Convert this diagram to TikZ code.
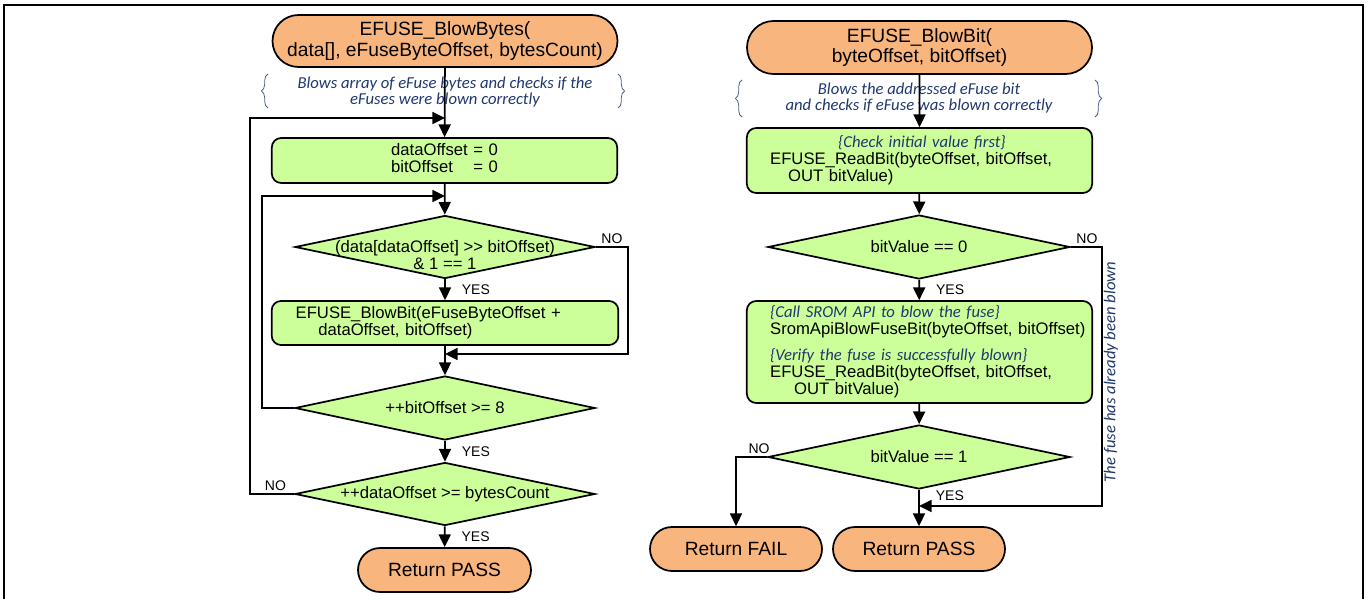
\documentclass[tikz,border=0pt]{standalone}
\usepackage{fontspec}
\setmainfont{Liberation Sans}
\newfontfamily\notefont{Carlito}
\usepackage{xcolor}
\usetikzlibrary{shapes.geometric,shapes.misc,arrows.meta,decorations.pathreplacing}

\definecolor{termfill}{RGB}{248,181,126}
\definecolor{procfill}{RGB}{204,255,153}
\definecolor{notecol}{RGB}{31,56,110}
\newcommand{\cmttext}[1]{{\notefont\itshape\color{notecol}#1}}

\begin{document}
\begin{tikzpicture}[x=0.75pt,y=0.75pt,yscale=-1,xscale=1,
  line width=1.3pt,
  flow/.style={-{Triangle[length=9.5pt,width=9pt]}},
  term/.style={draw, fill=termfill, shape=rounded rectangle, inner sep=0pt, align=center, minimum height=33pt, font=\fontsize{14.4}{15.5}\selectfont},
  proc/.style={draw, fill=procfill, rounded corners=7pt, inner xsep=17.5pt, inner ysep=0pt, text width=224pt, font=\fontsize{12.5}{12.75}\selectfont},
  decision/.style={draw, fill=procfill, shape=diamond, inner sep=0pt, minimum width=225pt, minimum height=47.25pt},
  dtxt/.style={align=center, inner sep=0pt, font=\fontsize{12.5}{12.75}\selectfont},
  lbl/.style={inner sep=1.5pt, font=\fontsize{10.5}{12}\selectfont},
  yeslbl/.style={lbl, anchor=west, xshift=10.5pt},
  note/.style={text=notecol, align=center, inner sep=0pt, font=\notefont\itshape\fontsize{12.5}{12}\selectfont},
  brc/.style={draw=notecol!80, line width=0.6pt, decorate, decoration={brace, amplitude=5pt}},
]
\useasboundingbox (0,0) rectangle (1368,599);
%Frame
\draw[line width=2.2pt] (4,599) -- (4,5) -- (1363,5) -- (1363,599);

%EFUSE_BlowBytes
\node[term, minimum width=258.75pt, minimum height=39pt] (bytesStart) at (445,41) {EFUSE\_BlowBytes(\\data[], eFuseByteOffset, bytesCount)};
\node[proc, align=center, minimum height=33.75pt] (initBox) at (444.5,160.5) {\begin{tabular}{@{}l@{\ }l@{}}dataOffset&= 0\\bitOffset&= 0\end{tabular}};
\node[decision] (bitTest) at (445,247) {};
\node[proc, align=left, minimum height=33pt, inner xsep=18pt] (blowBox) at (445,323) {EFUSE\_BlowBit(eFuseByteOffset +\\\hspace*{17pt}dataOffset, bitOffset)};
\node[decision, minimum height=48pt] (bitNext) at (445,408) {};
\node[decision] (byteNext) at (445,494) {};
\node[term, minimum width=129.75pt] (bytesPass) at (444.5,570) {Return PASS};

\coordinate (m0) at (445,118);
\coordinate (m1) at (445,196);
\coordinate (m2) at (445,354);
\coordinate (outerL) at (250,118);
\coordinate (innerL) at (262,196);
\coordinate (noR1) at (628,354);

% Text Node
\draw (445,92) node [note] (bytesNote) {Blows array of eFuse bytes and checks if the\\eFuses were blown correctly};
\draw[brc] (268,108) -- (268,74);
\draw[brc] (618,74) -- (618,108);
% Text Node
\draw (445,255) node [dtxt] (bitTestTxt) {(data[dataOffset] >{}> bitOffset)\\\& 1 == 1};
\draw (bitNext) node [dtxt] (bitNextTxt) {++bitOffset >= 8};
\draw (byteNext) node [dtxt] (byteNextTxt) {++dataOffset >= bytesCount};

\draw[flow] (bytesStart) -- (initBox);
\draw[flow] (initBox) -- (bitTest);
\draw[flow] (bitTest) -- node[yeslbl] (yes1) {YES} (blowBox);
\draw[flow] (blowBox) -- (bitNext);
\draw[flow] (bitTest.east) node[lbl, anchor=south west, xshift=2pt] (no1) {NO} -| (noR1) -- (m2);
\draw[flow] (bitNext) -- node[yeslbl] (yes2) {YES} (byteNext);
\draw[flow] (bitNext.west) -| (innerL) -- (m1);
\draw[flow] (byteNext) -- node[yeslbl] (yes3) {YES} (bytesPass);
\draw[flow] (byteNext.west) node[lbl, anchor=south east, xshift=-4pt] (no2) {NO} -| (outerL) -- (m0);

%EFUSE_BlowBit
\node[term, minimum width=258.75pt, minimum height=39.75pt] (bitStart) at (919.5,47.5) {EFUSE\_BlowBit(\\byteOffset, bitOffset)};
\node[proc, align=left, minimum height=48.75pt] (readBox) at (919.5,160.5) {\hspace*{51pt}\cmttext{\{Check initial value first\}}\\EFUSE\_ReadBit(byteOffset, bitOffset,\\\hspace*{13.5pt}OUT bitValue)};
\node[decision, minimum width=226.5pt, minimum height=48pt] (zeroTest) at (919,247) {};
\node[proc, align=left, minimum height=76.5pt] (fuseBox) at (919.5,352) {\cmttext{\{Call SROM API to blow the fuse\}}\\\mbox{SromApiBlowFuseBit(byteOffset, bitOffset)}\\[7pt]\cmttext{\{Verify the fuse is successfully blown\}}\\EFUSE\_ReadBit(byteOffset, bitOffset,\\\hspace*{18pt}OUT bitValue)};
\node[decision, minimum width=226.5pt, minimum height=48pt] (oneTest) at (919,457) {};
\node[term, minimum width=129pt] (bitFail) at (736,549) {Return FAIL};
\node[term, minimum width=129pt] (bitPass) at (919,549) {Return PASS};

\coordinate (m3) at (919,506);
\coordinate (noR2) at (1102,506);

% Text Node
\draw (919,98) node [note] (bitNote) {Blows the addressed eFuse bit\\and checks if eFuse was blown correctly};
\draw[brc] (742,117) -- (742,80);
\draw[brc] (1095,80) -- (1095,117);
% Text Node
\draw (zeroTest) node [dtxt] (zeroTestTxt) {bitValue == 0};
\draw (oneTest) node [dtxt] (oneTestTxt) {bitValue == 1};
\draw (1111,372) node [note, rotate=90] (fuseNote) {The fuse has already been blown};

\draw[flow] (bitStart) -- (readBox);
\draw[flow] (readBox) -- (zeroTest);
\draw[flow] (zeroTest) -- node[yeslbl] (yes4) {YES} (fuseBox);
\draw[flow] (fuseBox) -- (oneTest);
\draw[flow] (zeroTest.east) node[lbl, anchor=south west, xshift=2pt] (no3) {NO} -| (noR2) -- (m3);
\draw[flow] (oneTest) -- node[yeslbl, pos=0.15] (yes5) {YES} (bitPass);
\draw[flow] (oneTest.west) node[lbl, anchor=south east, xshift=4pt] (no4) {NO} -| (bitFail);

\end{tikzpicture}
\end{document}
